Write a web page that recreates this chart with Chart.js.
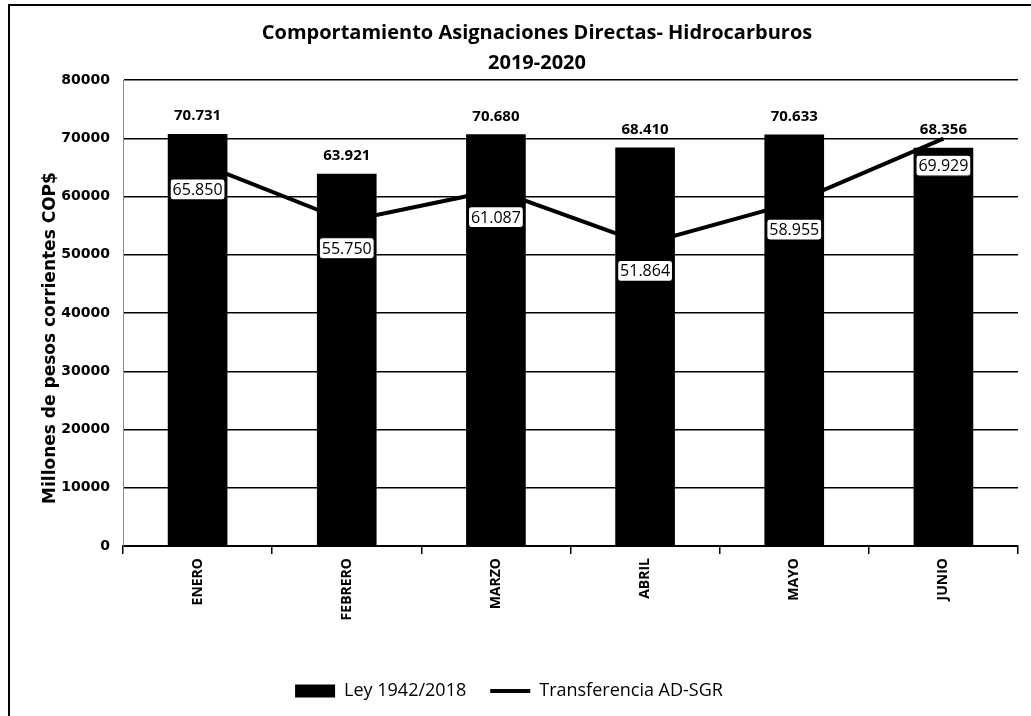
<!DOCTYPE html>
<html>
<head>
<title>Comportamiento Asignaciones Directas- Hidrocarburos</title>
<script src="https://cdn.jsdelivr.net/npm/chart.js"></script>
<style>
  html, body { margin: 0; padding: 0; background: #fff; }
  .wrap { width: 1031px; height: 716px; }
</style>
</head>
<body>
<div class="wrap"><canvas id="grafico" width="1031" height="716"></canvas></div>
<script>
// datos (millones de pesos)
const meses = ['ENERO', 'FEBRERO', 'MARZO', 'ABRIL', 'MAYO', 'JUNIO'];
const ley1942 = [70731, 63921, 70680, 68410, 70633, 68356];
const transferencia = [65850, 55750, 61087, 51864, 58955, 69929];
const titulo = ['Comportamiento Asignaciones Directas- Hidrocarburos', '2019-2020'];
const ejeY = 'Millones de pesos corrientes COP$';

const fuente = '"Open Sans", "Noto Sans", sans-serif';
const fuenteNum = '"DejaVu Sans", sans-serif';

function miles(v) {
    return String(v).replace(/\B(?=(\d{3})+(?!\d))/g, '.');
}

// marco, titulos y etiquetas de datos
const extras = {
    id: 'extras',
    beforeDraw(chart) {
        const ctx = chart.ctx;
        ctx.save();
        ctx.fillStyle = '#fff';
        ctx.fillRect(0, 0, chart.width, chart.height);
        ctx.strokeStyle = '#000';
        ctx.lineWidth = 2;
        ctx.beginPath();
        ctx.moveTo(9, chart.height + 5);
        ctx.lineTo(9, 5);
        ctx.lineTo(chart.width + 5, 5);
        ctx.stroke();
        ctx.restore();
    },
    afterDraw(chart) {
        const ctx = chart.ctx;
        ctx.save();
        ctx.fillStyle = '#000';
        ctx.textAlign = 'center';
        ctx.textBaseline = 'middle';
        ctx.font = 'bold 20px ' + fuente;
        ctx.fillText(titulo[0], 537, 33);
        ctx.fillText(titulo[1], 537, 63);

        // titulo del eje y
        ctx.save();
        ctx.translate(51, 338);
        ctx.rotate(-Math.PI / 2);
        ctx.font = 'bold 17px ' + fuenteNum;
        ctx.fillText(ejeY, 0, 0);
        ctx.restore();

        // valores de las barras
        ctx.font = 'bold 15px ' + fuente;
        chart.getDatasetMeta(0).data.forEach((bar, i) => {
            ctx.fillText(miles(ley1942[i]), bar.x, bar.y - 18);
        });

        // valores de la linea en recuadro blanco
        ctx.font = '16px ' + fuente;
        chart.getDatasetMeta(1).data.forEach((pt, i) => {
            const txt = miles(transferencia[i]);
            const w = ctx.measureText(txt).width + 5;
            const h = 21;
            const cy = pt.y + 27;
            ctx.beginPath();
            ctx.roundRect(pt.x - w / 2, cy - h / 2, w, h, 3);
            ctx.fillStyle = '#fff';
            ctx.fill();
            ctx.lineWidth = 1.2;
            ctx.strokeStyle = '#000';
            ctx.stroke();
            ctx.fillStyle = '#000';
            ctx.fillText(txt, pt.x, cy + 1);
        });
        ctx.restore();
    }
};

const ctx = document.getElementById('grafico').getContext('2d');
new Chart(ctx, {
    data: {
        labels: meses,
        datasets: [
            {
                type: 'bar',
                label: 'Ley 1942/2018',
                data: ley1942,
                backgroundColor: '#000',
                borderWidth: 0,
                categoryPercentage: 1,
                barPercentage: 0.4,
                pointStyle: 'rect',
                order: 2
            },
            {
                type: 'line',
                label: 'Transferencia AD-SGR',
                data: transferencia,
                borderColor: '#000',
                backgroundColor: '#000',
                borderWidth: 4,
                pointRadius: 0,
                pointStyle: 'line',
                tension: 0,
                order: 1
            }
        ]
    },
    options: {
        responsive: false,
        animation: false,
        layout: { padding: { top: 80, right: 13, bottom: 6, left: 0 } },
        plugins: {
            title: { display: false },
            tooltip: { enabled: false },
            legend: {
                position: 'bottom',
                labels: {
                    color: '#000',
                    font: { family: fuente, size: 18 },
                    usePointStyle: true,
                    pointStyleWidth: 40,
                    boxHeight: 13,
                    padding: 24,
                    sort: (a, b) => a.datasetIndex - b.datasetIndex
                }
            }
        },
        scales: {
            x: {
                grid: { display: true, drawOnChartArea: false, drawTicks: true, tickLength: 8, color: '#000', lineWidth: 1.5, offset: true },
                border: { display: true, color: '#000', width: 2 },
                ticks: {
                    color: '#000',
                    font: { family: fuente, size: 14, weight: 'bold' },
                    maxRotation: 90,
                    minRotation: 90,
                    padding: 4
                },
                afterFit(scale) { scale.height = 112; }
            },
            y: {
                min: 0,
                max: 80000,
                grid: { color: '#000', lineWidth: 1.5, drawTicks: false },
                border: { display: true, color: '#888', width: 1 },
                ticks: {
                    stepSize: 10000,
                    color: '#000',
                    padding: 13,
                    font: { family: fuenteNum, size: 14, weight: 'bold' },
                    callback: v => String(v)
                },
                afterFit(scale) { scale.width = 123; }
            }
        }
    },
    plugins: [extras]
});
</script>
</body>
</html>
